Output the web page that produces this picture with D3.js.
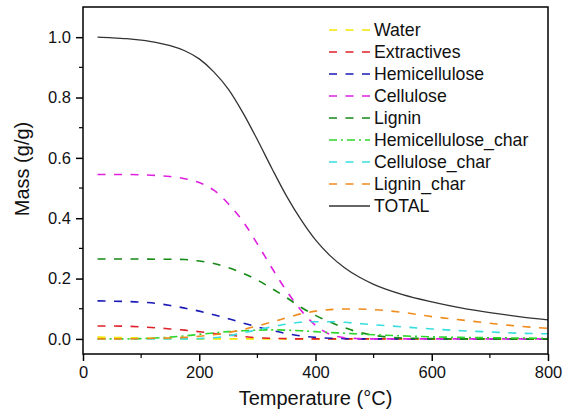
<!DOCTYPE html>
<html>
<head>
<meta charset="utf-8">
<script src="https://cdn.jsdelivr.net/npm/d3@7"></script>
<style>
  body { margin: 0; background: #fff; }
  svg { display: block; font-family: "Liberation Sans", Arial, sans-serif; }
</style>
</head>
<body>
<svg id="chart" width="574" height="414"></svg>
<script>
// temperatures (°C)
var temps = [25, 50, 75, 100, 125, 150, 175, 200, 225, 250, 275, 300, 325, 350, 375, 400, 425, 450, 475, 500, 550, 600, 650, 700, 750, 800];

var water        = [0.006, 0.005, 0.004, 0.003, 0.002, 0.001, 0.0005, 0, 0, 0, 0, 0, 0, 0, 0, 0, 0, 0, 0, 0, 0, 0, 0, 0, 0, 0];
var extractives  = [0.043, 0.043, 0.042, 0.040, 0.037, 0.033, 0.029, 0.024, 0.018, 0.013, 0.008, 0.004, 0.002, 0.001, 0, 0, 0, 0, 0, 0, 0, 0, 0, 0, 0, 0];
var hemicell     = [0.126, 0.125, 0.124, 0.122, 0.118, 0.111, 0.102, 0.092, 0.080, 0.067, 0.053, 0.040, 0.028, 0.018, 0.010, 0.005, 0.002, 0.001, 0, 0, 0, 0, 0, 0, 0, 0];
var cellulose    = [0.545, 0.545, 0.545, 0.544, 0.542, 0.538, 0.531, 0.518, 0.493, 0.448, 0.390, 0.315, 0.235, 0.160, 0.095, 0.045, 0.015, 0.004, 0.001, 0, 0, 0, 0, 0, 0, 0];
var lignin       = [0.265, 0.265, 0.265, 0.265, 0.264, 0.264, 0.263, 0.258, 0.250, 0.236, 0.218, 0.195, 0.167, 0.137, 0.105, 0.078, 0.056, 0.037, 0.022, 0.012, 0.003, 0.001, 0, 0, 0, 0];
var hemiChar     = [0, 0, 0, 0.001, 0.003, 0.006, 0.010, 0.015, 0.020, 0.024, 0.027, 0.029, 0.030, 0.029, 0.027, 0.024, 0.021, 0.019, 0.016, 0.014, 0.010, 0.007, 0.005, 0.004, 0.003, 0.002];
var celluChar    = [0, 0, 0, 0, 0, 0, 0, 0.001, 0.004, 0.010, 0.020, 0.030, 0.040, 0.049, 0.055, 0.057, 0.057, 0.055, 0.051, 0.047, 0.040, 0.033, 0.027, 0.023, 0.019, 0.017];
var ligninChar   = [0, 0, 0, 0.001, 0.002, 0.003, 0.005, 0.009, 0.014, 0.021, 0.031, 0.043, 0.056, 0.070, 0.083, 0.092, 0.097, 0.099, 0.099, 0.097, 0.088, 0.074, 0.063, 0.052, 0.042, 0.035];
var total        = [1.000, 0.998, 0.995, 0.990, 0.983, 0.972, 0.955, 0.928, 0.885, 0.828, 0.750, 0.660, 0.565, 0.474, 0.395, 0.328, 0.276, 0.236, 0.205, 0.181, 0.147, 0.123, 0.103, 0.087, 0.074, 0.063];

var seriesNames = ["Water", "Extractives", "Hemicellulose", "Cellulose", "Lignin", "Hemicellulose_char", "Cellulose_char", "Lignin_char", "TOTAL"];
var seriesValues = [water, extractives, hemicell, cellulose, lignin, hemiChar, celluChar, ligninChar, total];

var xTicks = [0, 200, 400, 600, 800];
var yTicks = [0.0, 0.2, 0.4, 0.6, 0.8, 1.0];

var colors = ["#f2e600", "#e0202a", "#1a1ab8", "#e020e0", "#158a15", "#2ed62e", "#38dede", "#f08c1e", "#333333"];
var dashes = ["8,8.5", "8,8.5", "8,8.5", "8,8.5", "8,8.5", "8,4,2,4", "8,8.5", "8,8.5", null];

var svg = d3.select("#chart"),
    margin = {top: 7, right: 26, bottom: 60, left: 83},
    width = +svg.attr("width") - margin.left - margin.right,
    height = +svg.attr("height") - margin.top - margin.bottom,
    g = svg.append("g").attr("transform", "translate(" + margin.left + "," + margin.top + ")");

var x = d3.scaleLinear().domain([0, 800]).range([0, width]);
var y = d3.scaleLinear().domain([-0.05, 1.1]).range([height, 0]);

var line = d3.line()
    .x(function(d) { return x(d[0]); })
    .y(function(d) { return y(d[1]); })
    .curve(d3.curveMonotoneX);

// curves (draw TOTAL last)
seriesNames.forEach(function(name, i) {
  var pts = temps.map(function(t, j) { return [t, seriesValues[i][j]]; });
  g.append("path")
    .datum(pts)
    .attr("fill", "none")
    .attr("stroke", colors[i])
    .attr("stroke-width", i === 8 ? 1.3 : 1.6)
    .attr("stroke-dasharray", dashes[i])
    .attr("d", line);
});

// frame
g.append("rect")
  .attr("width", width).attr("height", height)
  .attr("fill", "none").attr("stroke", "#000").attr("stroke-width", 1.5);

// minor ticks
g.append("g").selectAll("line")
  .data([100, 300, 500, 700])
  .enter().append("line")
    .attr("x1", function(d) { return x(d); }).attr("x2", function(d) { return x(d); })
    .attr("y1", height).attr("y2", height + 4)
    .attr("stroke", "#000").attr("stroke-width", 1.2);
g.append("g").selectAll("line")
  .data([0.1, 0.3, 0.5, 0.7, 0.9])
  .enter().append("line")
    .attr("y1", function(d) { return y(d); }).attr("y2", function(d) { return y(d); })
    .attr("x1", 0).attr("x2", -4)
    .attr("stroke", "#000").attr("stroke-width", 1.2);

// axes
var xAxis = g.append("g")
  .attr("transform", "translate(0," + height + ")")
  .call(d3.axisBottom(x).tickValues(xTicks).tickSize(7).tickPadding(5).tickFormat(d3.format("d")));
var yAxis = g.append("g")
  .call(d3.axisLeft(y).tickValues(yTicks).tickSize(7).tickPadding(5).tickFormat(d3.format(".1f")));

[xAxis, yAxis].forEach(function(a) {
  a.select(".domain").remove();
  a.selectAll(".tick line").attr("stroke", "#000").attr("stroke-width", 1.5);
  a.selectAll(".tick text").attr("fill", "#111").attr("font-size", 16.5)
    .attr("font-family", "'Liberation Sans', Arial, sans-serif");
});

// axis titles
svg.append("text")
  .attr("x", margin.left + width / 2).attr("y", 405)
  .attr("text-anchor", "middle").attr("font-size", 20).attr("fill", "#111")
  .text("Temperature (°C)");
svg.append("text")
  .attr("transform", "translate(29," + (margin.top + 162) + ") rotate(-90)")
  .attr("text-anchor", "middle").attr("font-size", 20).attr("fill", "#111")
  .text("Mass (g/g)");

// legend
var legend = svg.append("g")
    .attr("font-size", 17.7)
  .selectAll("g")
  .data(seriesNames)
  .enter().append("g")
    .attr("transform", function(d, i) { return "translate(329," + (30 + i * 22) + ")"; });
legend.append("line")
  .attr("x1", 0).attr("x2", 41)
  .attr("stroke", function(d, i) { return colors[i]; })
  .attr("stroke-width", function(d, i) { return i === 8 ? 1.3 : 1.6; })
  .attr("stroke-dasharray", function(d, i) { return dashes[i]; });
legend.append("text")
  .attr("x", 45).attr("dy", "0.36em")
  .attr("fill", "#111")
  .text(function(d) { return d; });
</script>
</body>
</html>
